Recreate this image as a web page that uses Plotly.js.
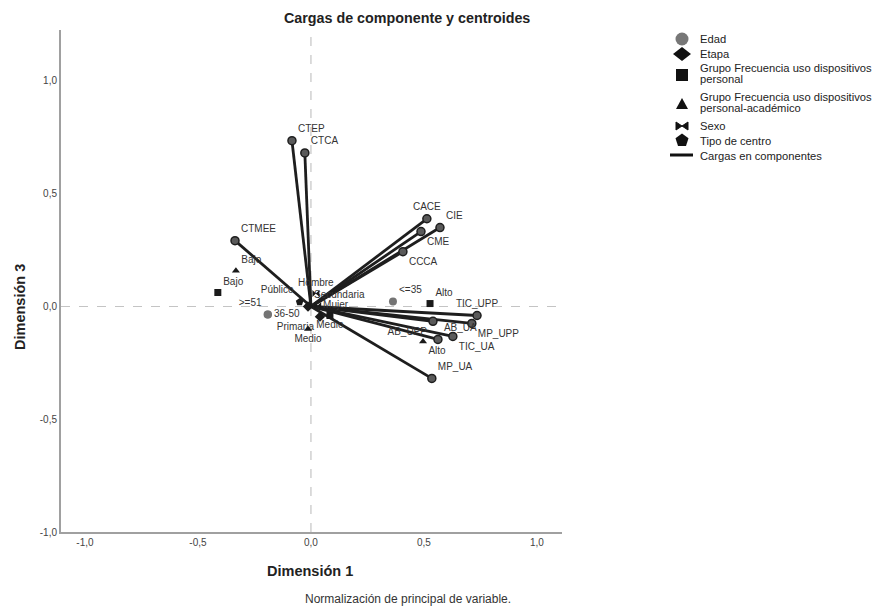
<!DOCTYPE html>
<html>
<head>
<meta charset="utf-8">
<script src="https://cdn.plot.ly/plotly-3.0.1.min.js"></script>
<style>body{margin:0;background:#fff;} #chart{width:881px;height:608px;}</style>
</head>
<body>
<div id="chart"></div>
<script>
// Component loadings (Dimensión 1, Dimensión 3)
const loadingNames = ['CTEP','CTCA','CTMEE','CACE','CIE','CME','CCCA','TIC_UPP','MP_UPP','TIC_UA','AB_UPP','AB_UA','MP_UA'];
const loadingX = [-0.084,-0.027,-0.336,0.513,0.571,0.487,0.407,0.735,0.712,0.628,0.540,0.562,0.535];
const loadingY = [0.735,0.681,0.292,0.389,0.350,0.332,0.243,-0.040,-0.075,-0.133,-0.066,-0.146,-0.319];
const loadingPos = ['top right','top right','top right','top center','top right','bottom right','bottom right','top center','bottom right','bottom right','bottom left','top right','top right'];

// Centroids
const edadNames = ['&lt;=35','36-50','&gt;=51'];
const edadX = [0.363,-0.190,-0.192];
const edadY = [0.022,-0.035,-0.036];
const edadPos = ['top right','middle right','top left'];

const etapaNames = ['Primaria','Secundaria'];
const etapaX = [0.040,-0.013];
const etapaY = [-0.045,0.000];
const etapaPos = ['bottom left','top right'];

const gPersNames = ['Bajo','Medio','Alto'];
const gPersX = [-0.412,0.084,0.527];
const gPersY = [0.062,-0.040,0.013];
const gPersPos = ['top right','bottom center','top right'];

const gAcadNames = ['Bajo','Medio','Alto'];
const gAcadX = [-0.332,-0.013,0.496];
const gAcadY = [0.159,-0.100,-0.155];
const gAcadPos = ['top right','bottom center','bottom right'];

const sexoNames = ['Hombre','Mujer'];
const sexoX = [0.022,0.030];
const sexoY = [0.058,0.004];
const sexoPos = ['top center','middle right'];

const centroNames = ['Público'];
const centroX = [-0.050];
const centroY = [0.020];
const centroPos = ['top left'];

// Axis tick labels
const tickVals = [-1,-0.5,0,0.5,1];
const tickText = ['-1,0','-0,5','0,0','0,5','1,0'];

// Legend entries
const legendNames = ['Edad','Etapa','Grupo Frecuencia uso dispositivos|personal','Grupo Frecuencia uso dispositivos|personal-académico','Sexo','Tipo de centro','Cargas en componentes'];

// build loading segments from origin
const segX = [], segY = [];
loadingX.forEach((v,i)=>{ segX.push(0, v, null); segY.push(0, loadingY[i], null); });

const FONT = 'Liberation Sans, Arial, sans-serif';
const txtFont = {family:FONT, size:10, color:'#333'};

function centroidTrace(name, xs, ys, txt, pos, symbol, color, size){
  return {type:'scatter', mode:'markers+text', name:name, x:xs, y:ys, text:txt, textposition:pos,
    textfont:txtFont, cliponaxis:false, showlegend:false,
    marker:{symbol:symbol, color:color, size:size, line:{width:0}}, hoverinfo:'text'};
}

const traces = [
  {type:'scatter', mode:'lines', name:'Cargas en componentes', x:segX, y:segY, showlegend:false,
   line:{color:'#1e1e1e', width:2.8}, hoverinfo:'skip'},
  {type:'scatter', mode:'markers+text', name:'loadpts', showlegend:false, x:loadingX, y:loadingY,
   text:loadingNames, textposition:loadingPos, textfont:txtFont, cliponaxis:false,
   marker:{symbol:'circle', size:8, color:'#5a5a5a', line:{color:'#1e1e1e', width:1.5}}},
  centroidTrace('Edad', edadX, edadY, edadNames, edadPos, 'circle', '#747474', 8),
  centroidTrace('Etapa', etapaX, etapaY, etapaNames, etapaPos, 'diamond', '#1a1a1a', 8),
  centroidTrace('GP', gPersX, gPersY, gPersNames, gPersPos, 'square', '#1a1a1a', 7),
  centroidTrace('GA', gAcadX, gAcadY, gAcadNames, gAcadPos, 'triangle-up', '#1a1a1a', 7),
  centroidTrace('Sexo', sexoX, sexoY, sexoNames, sexoPos, 'bowtie', '#1a1a1a', 7),
  centroidTrace('Tipo de centro', centroX, centroY, centroNames, centroPos, 'pentagon', '#1a1a1a', 8)
];

// plot area geometry (pixels)
const M = {l:61, r:319, t:30, b:76};
const W = 881, H = 608;
const PW = W - M.l - M.r, PH = H - M.t - M.b;
const xp = px => (px - M.l) / PW;
const yp = py => (H - M.b - py) / PH;

const axisCommon = {showgrid:false, zeroline:false, showline:true, linecolor:'#a0a0a0', linewidth:2,
  ticks:'', tickfont:{family:FONT, size:10, color:'#444'}, tickmode:'array', tickvals:tickVals, ticktext:tickText};

// custom legend (symbols as shapes, labels as annotations)
const legSymX = 682, legTxtX = 698;
const legRows = [
  {sym:'circle', sy:39, ty:[39]},
  {sym:'diamond', sy:54, ty:[54]},
  {sym:'square', sy:75, ty:[68,79]},
  {sym:'triangle', sy:104, ty:[97,108]},
  {sym:'bowtie', sy:126, ty:[126]},
  {sym:'pentagon', sy:140, ty:[141]},
  {sym:'line', sy:155, ty:[156]}
];
const legShapes = [];
const legAnn = [];
legRows.forEach((r,i)=>{
  const base = {xref:'paper', yref:'paper', xsizemode:'pixel', ysizemode:'pixel',
    xanchor:xp(legSymX), yanchor:yp(r.sy), line:{width:0}};
  if(r.sym==='circle') legShapes.push(Object.assign({}, base, {type:'circle', x0:-6.5, x1:6.5, y0:-6.5, y1:6.5, fillcolor:'#777'}));
  if(r.sym==='diamond') legShapes.push(Object.assign({}, base, {type:'path', path:'M -9 0 L 0 7 L 9 0 L 0 -7 Z', fillcolor:'#111'}));
  if(r.sym==='square') legShapes.push(Object.assign({}, base, {type:'rect', x0:-6, x1:6, y0:-6, y1:6, fillcolor:'#111'}));
  if(r.sym==='triangle') legShapes.push(Object.assign({}, base, {type:'path', path:'M -6 -5 L 6 -5 L 0 6 Z', fillcolor:'#111'}));
  if(r.sym==='bowtie') legShapes.push(Object.assign({}, base, {type:'path', path:'M -6 -4 L 6 4 L 6 -4 L -6 4 Z', fillcolor:'#111', line:{color:'#111', width:1}}));
  if(r.sym==='pentagon') legShapes.push(Object.assign({}, base, {type:'path', path:'M 0 6.5 L 6.5 1.8 L 4 -6 L -4 -6 L -6.5 1.8 Z', fillcolor:'#111'}));
  if(r.sym==='line') legShapes.push(Object.assign({}, base, {type:'line', x0:-12, x1:11, y0:0, y1:0, line:{color:'#111', width:3}}));
  legendNames[i].split('|').forEach((t,j)=>{
    legAnn.push({text:t, xref:'paper', yref:'paper', x:xp(legTxtX), y:yp(r.ty[j]), xanchor:'left', yanchor:'middle',
      showarrow:false, font:{family:FONT, size:11.2, color:'#222'}});
  });
});

const layout = {
  width:W, height:H,
  margin:Object.assign({autoexpand:false}, M),
  paper_bgcolor:'#fff', plot_bgcolor:'#fff',
  font:{family:FONT, color:'#222'},
  showlegend:false,
  xaxis:Object.assign({}, axisCommon, {range:[-1.106,1.111]}),
  yaxis:Object.assign({}, axisCommon, {range:[-1.0,1.226]}),
  shapes:[
    {type:'line', xref:'x', yref:'paper', x0:0, x1:0, y0:0, y1:1, line:{color:'#c4c4c4', width:1.2, dash:'dash'}, layer:'below'},
    {type:'line', xref:'paper', yref:'y', x0:0, x1:1, y0:0, y1:0, line:{color:'#c4c4c4', width:1.2, dash:'dash'}, layer:'below'}
  ].concat(legShapes),
  annotations:[
    {text:'<b>Cargas de componente y centroides</b>', xref:'paper', yref:'paper', x:xp(407), y:yp(18), xanchor:'center', yanchor:'middle', showarrow:false,
     font:{family:FONT, size:14.3, color:'#222'}},
    {text:'<b>Dimensión 1</b>', xref:'paper', yref:'paper', x:xp(310), y:yp(571), xanchor:'center', yanchor:'middle', showarrow:false,
     font:{family:FONT, size:14.5, color:'#222'}},
    {text:'<b>Dimensión 3</b>', xref:'paper', yref:'paper', x:xp(20), y:yp(307), xanchor:'center', yanchor:'middle', textangle:-90, showarrow:false,
     font:{family:FONT, size:14.5, color:'#222'}},
    {text:'Normalización de principal de variable.', xref:'paper', yref:'paper', x:xp(408), y:yp(599), xanchor:'center', yanchor:'middle', showarrow:false,
     font:{family:FONT, size:12, color:'#333'}}
  ].concat(legAnn)
};

Plotly.newPlot('chart', traces, layout, {displayModeBar:false, staticPlot:true});
</script>
</body>
</html>
